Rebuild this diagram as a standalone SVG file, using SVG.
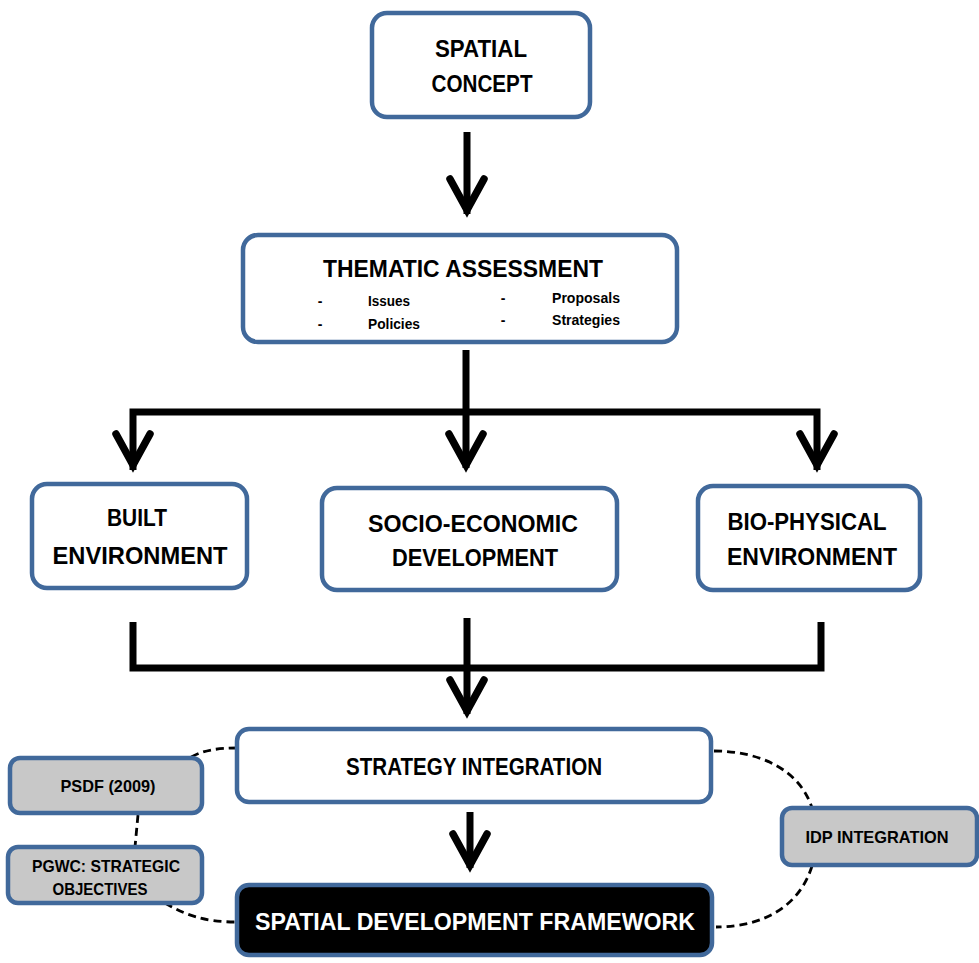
<svg xmlns="http://www.w3.org/2000/svg" xmlns:xlink="http://www.w3.org/1999/xlink" width="979" height="963" viewBox="0 0 979 963">
<defs>
<style>
.box{fill:#fff;stroke:#41699b;stroke-width:4.5}
.gbox{fill:#c8c8c8;stroke:#41699b;stroke-width:4.5}
.dbox{fill:#000;stroke:#41699b;stroke-width:4.5}
.t{font-family:"Liberation Sans",Arial,sans-serif;font-weight:bold;fill:#000;text-anchor:middle}
.big{font-size:24px}
.sm{font-size:16.5px}
.xs{font-size:14px}
.w{fill:#fff}
.ln{fill:none;stroke:#000;stroke-width:7}
.ah{fill:none;stroke:#000;stroke-width:7.5;stroke-linecap:round;stroke-linejoin:miter}
.dash{fill:none;stroke:#000;stroke-width:2.8;stroke-dasharray:8 5}
</style>
<path id="ah" class="ah" d="M-17,-39 L0,-8 L17,-39"/>
</defs>

<g id="connectors">
<line class="ln" x1="467" y1="132" x2="467" y2="214"/>
<use xlink:href="#ah" x="467" y="218"/>
<line class="ln" x1="466" y1="350" x2="466" y2="468"/>
<polyline class="ln" points="133,470 133,412 817,412 817,470" stroke-linejoin="miter"/>
<use xlink:href="#ah" x="133" y="473"/>
<use xlink:href="#ah" x="466" y="473"/>
<use xlink:href="#ah" x="817" y="473"/>
<polyline class="ln" points="133,622 133,668 821,668 821,622"/>
<line class="ln" x1="467" y1="618" x2="467" y2="714"/>
<use xlink:href="#ah" x="467" y="719"/>
<line class="ln" x1="470" y1="812" x2="470" y2="868"/>
<use xlink:href="#ah" x="470" y="873"/>
<path class="dash" d="M237,748 C215,748 200,751 188,759"/>
<path class="dash" d="M138,815 L135,847"/>
<path class="dash" d="M165,903 C185,915 205,922 236,922"/>
<path class="dash" d="M714,751 C760,751 800,770 812,808"/>
<path class="dash" d="M812,866 C800,905 765,927 716,927"/>
</g>

<g id="spatial-concept">
<rect class="box" x="372" y="13" width="218" height="104" rx="15"/>
<text class="t big" x="481" y="57" textLength="92" lengthAdjust="spacingAndGlyphs">SPATIAL</text>
<text class="t big" x="482" y="92" textLength="101" lengthAdjust="spacingAndGlyphs">CONCEPT</text>
</g>

<g id="thematic-assessment">
<rect class="box" x="243" y="235" width="434" height="107" rx="15"/>
<text class="t big" x="463" y="277" textLength="280" lengthAdjust="spacingAndGlyphs">THEMATIC ASSESSMENT</text>
<text class="t xs" x="320" y="306">-</text>
<text class="t xs" x="320" y="329">-</text>
<text class="t xs" x="503" y="303">-</text>
<text class="t xs" x="503" y="325">-</text>
<text class="t xs" x="368" y="306" style="text-anchor:start" textLength="42" lengthAdjust="spacingAndGlyphs">Issues</text>
<text class="t xs" x="368" y="329" style="text-anchor:start" textLength="52" lengthAdjust="spacingAndGlyphs">Policies</text>
<text class="t xs" x="552" y="303" style="text-anchor:start" textLength="68" lengthAdjust="spacingAndGlyphs">Proposals</text>
<text class="t xs" x="552" y="325" style="text-anchor:start" textLength="68" lengthAdjust="spacingAndGlyphs">Strategies</text>
</g>

<g id="built-environment">
<rect class="box" x="32" y="484" width="215" height="104" rx="15"/>
<text class="t big" x="137" y="526" textLength="60" lengthAdjust="spacingAndGlyphs">BUILT</text>
<text class="t big" x="140" y="564" textLength="175" lengthAdjust="spacingAndGlyphs">ENVIRONMENT</text>
</g>

<g id="socio-economic-development">
<rect class="box" x="322" y="488" width="295" height="102" rx="15"/>
<text class="t big" x="473" y="532" textLength="210" lengthAdjust="spacingAndGlyphs">SOCIO-ECONOMIC</text>
<text class="t big" x="475" y="566" textLength="166" lengthAdjust="spacingAndGlyphs">DEVELOPMENT</text>
</g>

<g id="bio-physical-environment">
<rect class="box" x="698" y="486" width="222" height="104" rx="15"/>
<text class="t big" x="807" y="530" textLength="159" lengthAdjust="spacingAndGlyphs">BIO-PHYSICAL</text>
<text class="t big" x="812" y="565" textLength="170" lengthAdjust="spacingAndGlyphs">ENVIRONMENT</text>
</g>

<g id="strategy-integration">
<rect class="box" x="237" y="729" width="474" height="73" rx="12"/>
<text class="t big" x="474" y="775" textLength="256" lengthAdjust="spacingAndGlyphs">STRATEGY INTEGRATION</text>
</g>

<g id="psdf">
<rect class="gbox" x="10" y="758" width="192" height="55" rx="10"/>
<text class="t sm" x="108" y="792" textLength="95" lengthAdjust="spacingAndGlyphs">PSDF (2009)</text>
</g>

<g id="pgwc">
<rect class="gbox" x="8" y="847" width="194" height="56" rx="10"/>
<text class="t sm" x="106" y="872" textLength="148" lengthAdjust="spacingAndGlyphs">PGWC: STRATEGIC</text>
<text class="t sm" x="100" y="895" textLength="95" lengthAdjust="spacingAndGlyphs">OBJECTIVES</text>
</g>

<g id="idp-integration">
<rect class="gbox" x="782" y="808" width="195" height="57" rx="10"/>
<text class="t sm" x="877" y="843" textLength="143" lengthAdjust="spacingAndGlyphs">IDP INTEGRATION</text>
</g>

<g id="spatial-development-framework">
<rect class="dbox" x="237" y="885" width="475" height="70" rx="12"/>
<text class="t big w" x="475" y="930" textLength="440" lengthAdjust="spacingAndGlyphs">SPATIAL DEVELOPMENT FRAMEWORK</text>
</g>
</svg>
